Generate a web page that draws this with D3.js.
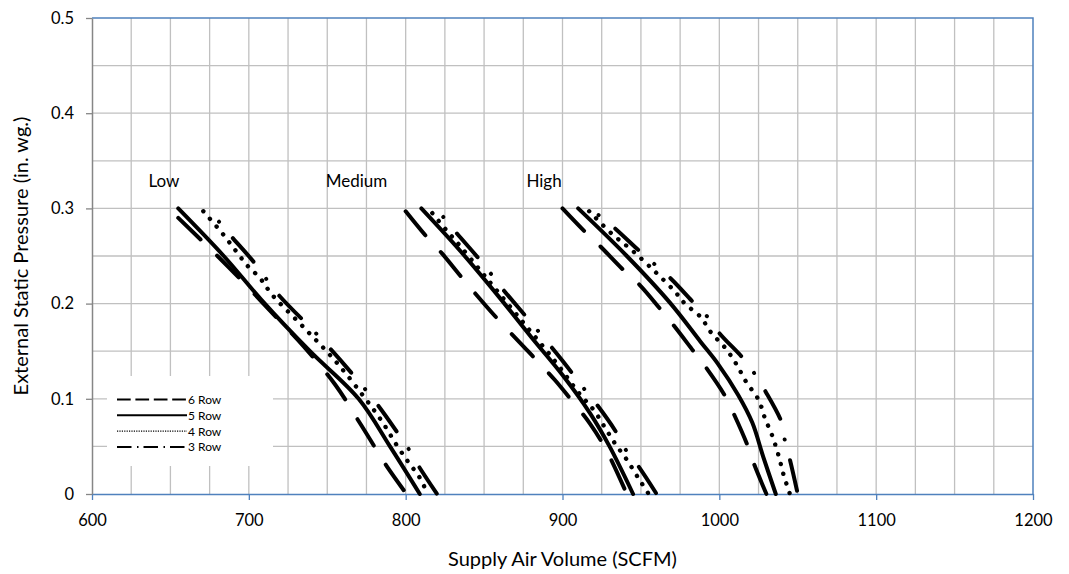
<!DOCTYPE html>
<html>
<head>
<meta charset="utf-8">
<script src="https://cdn.jsdelivr.net/npm/d3@7"></script>
<style>
  body { margin: 0; background: #fff; }
  text { font-family: Lato, "Open Sans", sans-serif; fill: #000; font-weight: normal; }
</style>
</head>
<body>
<svg id="chart" width="1069" height="574"></svg>
<script>
// axis ticks
var xTicks = [600, 700, 800, 900, 1000, 1100, 1200];
var yTicks = [0, 0.1, 0.2, 0.3, 0.4, 0.5];
var rowNames = ["6 Row", "5 Row", "4 Row", "3 Row"];

// fan speed labels: [name, airflow, pressure]
var groupLabels = [["Low", 636, 0.322], ["Medium", 749, 0.322], ["High", 877, 0.322]];

// [SCFM, in. wg.]
var low6 = [[655,0.29],[680,0.25],[695,0.225],[715,0.19],[735,0.155],[755,0.115],[771,0.074],[781.5,0.046],[788,0.029],[800.5,0]];
var low5 = [[655,0.30],[684,0.25],[708,0.204],[739,0.15],[770,0.10],[790,0.05],[809,0]];
var low4 = [[671,0.297],[683,0.274],[691,0.257],[699,0.24],[707,0.227],[715,0.209],[735,0.175],[755,0.14],[773,0.103],[785,0.076],[794,0.052],[801.5,0.034],[809,0.017],[814,0]];
var low3 = [[681,0.286],[688.6,0.271],[704,0.242],[718,0.211],[745,0.165],[765,0.128],[781.5,0.095],[795,0.064],[802,0.047],[808,0.03],[820,0]];

var med6 = [[800,0.297],[815,0.267],[823,0.253],[837,0.225],[858,0.185],[878,0.15],[895,0.12],[905,0.1],[917.5,0.074],[928,0.046],[941,0]];
var med5 = [[810,0.30],[835,0.255],[860,0.206],[880,0.165],[900,0.125],[917.5,0.085],[930,0.05],[945,0]];
var med4 = [[817,0.295],[826,0.277],[835,0.26],[847,0.236],[855,0.22],[875,0.18],[895,0.14],[911,0.105],[920,0.088],[927,0.07],[933.5,0.053],[941,0.036],[949,0.015],[955,0]];
var med3 = [[824,0.291],[832,0.275],[847,0.2465],[855,0.23],[862,0.215],[880,0.18],[900,0.14],[914,0.11],[921.4,0.095],[934.6,0.064],[940.5,0.046],[948,0.03],[960,0]];

var high6 = [[900,0.30],[914,0.276],[923,0.262],[939,0.235],[949,0.22],[963,0.193],[970,0.179],[984,0.149],[991,0.134],[1004,0.102],[1009,0.085],[1018,0.051],[1022,0.032],[1030,0]];
var high5 = [[910,0.30],[941,0.25],[969,0.20],[988,0.16],[999,0.137],[1012,0.104],[1021,0.075],[1028,0.039],[1036,0]];
var high4 = [[917,0.297],[931,0.274],[945,0.255],[960,0.232],[972,0.212],[978,0.2],[988,0.186],[995,0.169],[1004,0.153],[1011,0.136],[1017,0.118],[1025,0.099],[1029,0.08],[1034,0.06],[1038,0.039],[1041,0.02],[1045,0]];
var high3 = [[923,0.293],[933.5,0.279],[950.5,0.253],[968.6,0.227],[983,0.202],[993,0.185],[1000,0.169],[1016,0.141],[1023,0.125],[1029,0.109],[1040,0.074],[1042,0.054],[1045,0.036],[1050,0]];

var series = [
  {row: 0, pts: low6}, {row: 1, pts: low5}, {row: 2, pts: low4}, {row: 3, pts: low3},
  {row: 0, pts: med6}, {row: 1, pts: med5}, {row: 2, pts: med4}, {row: 3, pts: med3},
  {row: 0, pts: high6}, {row: 1, pts: high5}, {row: 2, pts: high4}, {row: 3, pts: high3}
];

var plotL = 92, plotR = 1033, plotT = 18, plotB = 494;
var svg = d3.select("#chart");

var x = d3.scaleLinear().domain([600, 1200]).range([plotL, plotR]);
var y = d3.scaleLinear().domain([0, 0.5]).range([plotB, plotT]);

// gridlines
var grid = svg.append("g").attr("stroke", "#c0c0c0").attr("stroke-width", 1.3);
grid.selectAll(".vg").data(d3.range(625, 1200, 25)).enter().append("line")
  .attr("x1", function(d) { return x(d); }).attr("x2", function(d) { return x(d); })
  .attr("y1", plotT).attr("y2", plotB);
grid.selectAll(".hg").data(d3.range(1, 10).map(function(i) { return i * 0.05; })).enter().append("line")
  .attr("x1", plotL).attr("x2", plotR)
  .attr("y1", function(d) { return y(d); }).attr("y2", function(d) { return y(d); });

// plot border
svg.append("path")
  .attr("d", "M" + plotL + "," + plotT + "H" + plotR + "V" + plotB)
  .attr("fill", "none").attr("stroke", "#4f81bd").attr("stroke-width", 1.5);

// x axis
var xAxis = svg.append("g").attr("transform", "translate(0," + plotB + ")")
  .call(d3.axisBottom(x).tickValues(xTicks).tickSize(6).tickSizeOuter(0).tickPadding(14)
    .tickFormat(d3.format("d")));
xAxis.select(".domain").attr("stroke", "#4f81bd").attr("stroke-width", 1.5);
xAxis.selectAll(".tick line").attr("stroke", "#4f81bd").attr("stroke-width", 1.3);
xAxis.selectAll("text").attr("font-size", 16.5).attr("font-family", "Lato, sans-serif").attr("fill", "#000");

// y axis
var yAxis = svg.append("g").attr("transform", "translate(" + plotL + ",0)")
  .call(d3.axisLeft(y).tickValues(yTicks).tickSize(6).tickSizeOuter(0).tickPadding(12)
    .tickFormat(function(d) { return d === 0 ? "0" : d3.format(".1f")(d); }));
yAxis.select(".domain").attr("stroke", "#868686").attr("stroke-width", 1.5);
yAxis.selectAll(".tick line").attr("stroke", "#868686").attr("stroke-width", 1.3);
yAxis.selectAll("text").attr("font-size", 16.5).attr("font-family", "Lato, sans-serif").attr("fill", "#000");

// axis titles
svg.append("text").attr("x", (plotL + plotR) / 2).attr("y", 566)
  .attr("text-anchor", "middle").attr("font-size", 20).text("Supply Air Volume (SCFM)");
svg.append("text").attr("transform", "translate(28," + ((plotT + plotB) / 2) + ") rotate(-90)")
  .attr("text-anchor", "middle").attr("font-size", 20).text("External Static Pressure (in. wg.)");

// curves
var dashes = ["31,23", null, "0.1,10", "0.1,21.5,31,21.5"];
var line = d3.line()
  .x(function(d) { return x(d[0]); })
  .y(function(d) { return y(d[1]); })
  .curve(d3.curveCatmullRom.alpha(0.5));

svg.append("g").selectAll("path").data(series).enter().append("path")
  .attr("d", function(d) { return line(d.pts); })
  .attr("fill", "none").attr("stroke", "#000")
  .attr("stroke-width", function(d) { return d.row === 2 ? 4.4 : 4; })
  .attr("stroke-linecap", "round")
  .attr("stroke-dasharray", function(d) { return dashes[d.row]; });

// group labels
svg.append("g").selectAll("text").data(groupLabels).enter().append("text")
  .attr("x", function(d) { return x(d[1]); })
  .attr("y", function(d) { return y(d[2]); })
  .attr("font-size", 17)
  .text(function(d) { return d[0]; });

// legend
var legendDash = ["13.7,4.7", null, "1.2,1.2", "14.5,5.5,1.5,5"];
var lg = svg.append("g");
lg.append("rect").attr("x", 107).attr("y", 376).attr("width", 166).attr("height", 90).attr("fill", "#fff");
var items = lg.selectAll(".item").data(rowNames).enter().append("g")
  .attr("transform", function(d, i) { return "translate(0," + (399.5 + i * 15.8) + ")"; });
items.append("line").attr("x1", 117).attr("x2", 187).attr("y1", 0).attr("y2", 0)
  .attr("stroke", "#000")
  .attr("stroke-width", function(d, i) { return i === 2 ? 1.2 : 2; })
  .attr("stroke-dasharray", function(d, i) { return legendDash[i]; });
items.append("text").attr("x", 188).attr("y", 4.5).attr("font-size", 12).text(function(d) { return d; });
</script>
</body>
</html>
